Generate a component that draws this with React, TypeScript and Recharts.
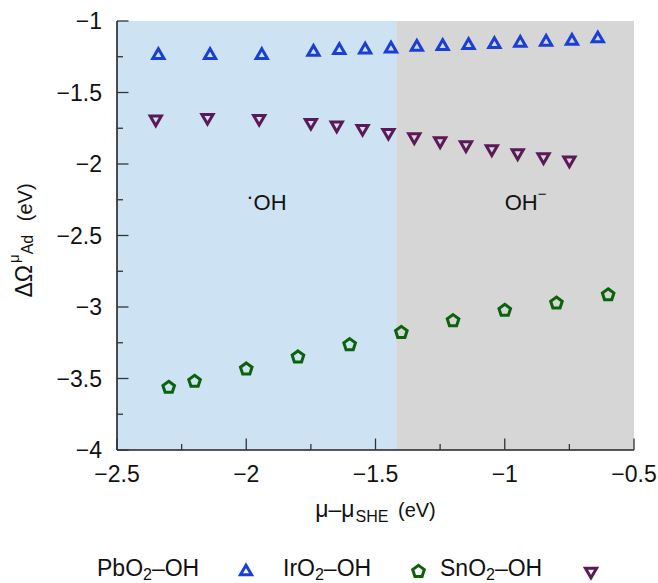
import React from 'react';
import { ScatterChart, Scatter, XAxis, YAxis, ReferenceArea, Legend, Label } from 'recharts';

// ---------- data ----------
const xTicks = [-2.5, -2.25, -2, -1.75, -1.5, -1.25, -1, -0.75, -0.5];
const yTicks = [-4, -3.75, -3.5, -3.25, -3, -2.75, -2.5, -2.25, -2, -1.75, -1.5, -1.25, -1];

const regionBoundary = -1.42;

// blue up-triangles
const pbX = [-2.34, -2.14, -1.94, -1.74, -1.64, -1.54, -1.44, -1.34, -1.24, -1.14, -1.04, -0.94, -0.84, -0.74, -0.64];
const pbY = [-1.228, -1.228, -1.228, -1.205, -1.193, -1.189, -1.182, -1.17, -1.165, -1.158, -1.151, -1.142, -1.135, -1.128, -1.112];

// green pentagons
const irX = [-2.3, -2.2, -2.0, -1.8, -1.6, -1.4, -1.2, -1.0, -0.8, -0.6];
const irY = [-3.562, -3.52, -3.434, -3.35, -3.264, -3.178, -3.096, -3.024, -2.973, -2.915];

// purple down-triangles
const snX = [-2.35, -2.15, -1.95, -1.75, -1.65, -1.55, -1.45, -1.35, -1.25, -1.15, -1.05, -0.95, -0.85, -0.75];
const snY = [-1.699, -1.687, -1.694, -1.722, -1.741, -1.764, -1.792, -1.822, -1.85, -1.878, -1.906, -1.934, -1.962, -1.985];

const annotations = [
  { x: -2.0, y: -2.32, kind: 'radical' },
  { x: -1.0, y: -2.32, kind: 'anion' },
];

const legendItems = [
  { base: 'PbO', sub: '2', rest: '–OH', marker: 'up' },
  { base: 'IrO', sub: '2', rest: '–OH', marker: 'pent' },
  { base: 'SnO', sub: '2', rest: '–OH', marker: 'down' },
];

// ---------- styles / layout ----------
const FONT = '"Liberation Sans", Arial, Helvetica, sans-serif';
const BLUE = '#1a3fd6';
const GREEN = '#0a620a';
const PURPLE = '#5b1a57';
const BG_BLUE = '#cde3f3';
const BG_GRAY = '#d6d6d6';
const TICK_COLOR = '#333';
const FRAME = '#222';
const TICK_FONT = 23;
const MAJOR_LEN = 11.5;
const MINOR_LEN = 6;
const SW = 3;

const legendLayout = [
  { textX: 97, markerX: 246, markerY: 21 },
  { textX: 283, markerX: 418.5, markerY: 22.5 },
  { textX: 440, markerX: 591, markerY: 24 },
];

const toPoints = (xs: number[], ys: number[]) => xs.map((x, i) => ({ x, y: ys[i] }));
const pbData = toPoints(pbX, pbY);
const irData = toPoints(irX, irY);
const snData = toPoints(snX, snY);

const isMajor = (v: number) => Math.abs(v * 2 - Math.round(v * 2)) < 1e-6;
const fmt = (v: number) => (v < 0 ? '\u2212' : '') + String(Math.abs(v));

// ---------- marker shapes ----------
const TRI_SIDE = 11.2;
const upPath = (cx: number, cy: number) => {
  const s = TRI_SIDE;
  const h = s * 0.866;
  return `M${cx},${cy - h / 2}L${cx + s / 2},${cy + h / 2}L${cx - s / 2},${cy + h / 2}Z`;
};
const downPath = (cx: number, cy: number) => {
  const s = TRI_SIDE;
  const h = s * 0.866;
  return `M${cx},${cy + h / 2}L${cx + s / 2},${cy - h / 2}L${cx - s / 2},${cy - h / 2}Z`;
};
const pentPath = (cx: number, cy: number) => {
  const r = 6.1;
  let d = '';
  for (let i = 0; i < 5; i++) {
    const a = -Math.PI / 2 + (i * 2 * Math.PI) / 5;
    d += (i === 0 ? 'M' : 'L') + (cx + r * Math.cos(a)).toFixed(2) + ',' + (cy + r * Math.sin(a)).toFixed(2);
  }
  return d + 'Z';
};

const markerEl = (kind: string, cx: number, cy: number) => {
  if (kind === 'up') return <path d={upPath(cx, cy)} fill="none" stroke={BLUE} strokeWidth={SW} />;
  if (kind === 'pent') return <path d={pentPath(cx, cy)} fill="none" stroke={GREEN} strokeWidth={SW} />;
  return <path d={downPath(cx, cy)} fill="none" stroke={PURPLE} strokeWidth={SW} />;
};

// ---------- ticks ----------
const XTickBottom = (props: any) => {
  const { x, y, payload } = props;
  const v = payload.value;
  const major = isMajor(v);
  return (
    <g>
      <line x1={x} x2={x} y1={y} y2={y - (major ? MAJOR_LEN : MINOR_LEN)} stroke={TICK_COLOR} strokeWidth={1.3} />
      {major && (
        <text x={x} y={y + 32} textAnchor="middle" fontSize={TICK_FONT} fontFamily={FONT} fill="#111">
          {fmt(v)}
        </text>
      )}
    </g>
  );
};
const XTickTop = (props: any) => {
  const { x, y, payload } = props;
  const major = isMajor(payload.value);
  return <line x1={x} x2={x} y1={y} y2={y + (major ? MAJOR_LEN : MINOR_LEN)} stroke={TICK_COLOR} strokeWidth={1.3} />;
};
const YTickLeft = (props: any) => {
  const { x, y, payload } = props;
  const v = payload.value;
  const major = isMajor(v);
  return (
    <g>
      <line x1={x} x2={x + (major ? MAJOR_LEN : MINOR_LEN)} y1={y} y2={y} stroke={TICK_COLOR} strokeWidth={1.3} />
      {major && (
        <text x={x - 15} y={y + 8} textAnchor="end" fontSize={TICK_FONT} fontFamily={FONT} fill="#111">
          {fmt(v)}
        </text>
      )}
    </g>
  );
};
const YTickRight = (props: any) => {
  const { x, y, payload } = props;
  const major = isMajor(payload.value);
  return <line x1={x} x2={x - (major ? MAJOR_LEN : MINOR_LEN)} y1={y} y2={y} stroke={TICK_COLOR} strokeWidth={1.3} />;
};

// ---------- labels ----------
const XAxisLabel = (props: any) => {
  const { x, y, width } = props.viewBox;
  return (
    <text x={x + width / 2} y={y + 67} textAnchor="middle" fontSize={23} fontFamily={FONT} fill="#111">
      μ–μ
      <tspan fontSize={16} dy={5} dx={1}>SHE</tspan>
      <tspan fontSize={20} dy={-5} dx={4}>{'\u00a0(eV)'}</tspan>
    </text>
  );
};
const YAxisLabel = (props: any) => {
  const { y, height } = props.viewBox;
  const cx = 32;
  const cy = y + height / 2 + 5;
  return (
    <text x={cx} y={cy} transform={`rotate(-90 ${cx} ${cy})`} textAnchor="middle" fontSize={23} fontFamily={FONT} fill="#111">
      ΔΩ
      <tspan fontSize={15} dy={-13} dx={2}>μ</tspan>
      <tspan fontSize={16} dy={14}>Ad</tspan>
      <tspan fontSize={20} dy={-1} dx={8}>{'\u00a0(eV)'}</tspan>
    </text>
  );
};

const AnnotationShape = (props: any) => {
  const { cx, cy, payload } = props;
  if (payload.kind === 'radical') {
    return (
      <text x={cx} y={cy} fontSize={22} fontFamily={FONT} fill="#111">
        <tspan dy={-6}>·</tspan>
        <tspan dy={6}>OH</tspan>
      </text>
    );
  }
  return (
    <text x={cx} y={cy} fontSize={22} fontFamily={FONT} fill="#111">
      OH
      <tspan fontSize={15} dy={-11}>−</tspan>
    </text>
  );
};

const LegendContent = () => (
  <svg width={658} height={34} style={{ display: 'block' }}>
    {legendItems.map((it, i) => {
      const L = legendLayout[i];
      return (
        <g key={it.base}>
          <text x={L.textX} y={27} fontSize={23} fontFamily={FONT} fill="#111">
            {it.base}
            <tspan fontSize={16} dy={4}>{it.sub}</tspan>
            <tspan dy={-4}>{it.rest}</tspan>
          </text>
          {markerEl(it.marker, L.markerX, L.markerY)}
        </g>
      );
    })}
  </svg>
);

export default function App() {
  return (
    <div style={{ width: 658, height: 583, position: 'relative' }}>
      <style>{'body{margin:0}'}</style>
      <ScatterChart width={658} height={583} margin={{ top: 21, right: 24, bottom: 0, left: 0 }}>
        <XAxis
          xAxisId="b"
          type="number"
          dataKey="x"
          domain={[-2.5, -0.5]}
          allowDataOverflow
          ticks={xTicks}
          interval={0}
          tickSize={0}
          tickMargin={0}
          tickLine={false}
          axisLine={{ stroke: FRAME, strokeWidth: 1.6 }}
          height={99}
          tick={XTickBottom}
          label={<Label content={XAxisLabel} />}
        />
        <XAxis
          xAxisId="t"
          orientation="top"
          type="number"
          dataKey="x"
          domain={[-2.5, -0.5]}
          allowDataOverflow
          ticks={xTicks}
          interval={0}
          tickSize={0}
          tickMargin={0}
          tickLine={false}
          axisLine={{ stroke: FRAME, strokeWidth: 1.6 }}
          height={0}
          tick={XTickTop}
        />
        <YAxis
          yAxisId="l"
          type="number"
          dataKey="y"
          domain={[-4, -1]}
          allowDataOverflow
          ticks={yTicks}
          interval={0}
          tickSize={0}
          tickMargin={0}
          tickLine={false}
          axisLine={{ stroke: FRAME, strokeWidth: 1.6 }}
          width={117}
          tick={YTickLeft}
          label={<Label content={YAxisLabel} />}
        />
        <YAxis
          yAxisId="r"
          orientation="right"
          type="number"
          dataKey="y"
          domain={[-4, -1]}
          allowDataOverflow
          ticks={yTicks}
          interval={0}
          tickSize={0}
          tickMargin={0}
          tickLine={false}
          axisLine={{ stroke: FRAME, strokeWidth: 1.6 }}
          width={0}
          tick={YTickRight}
        />
        <ReferenceArea xAxisId="b" yAxisId="l" x1={-2.5} x2={regionBoundary} y1={-4} y2={-1} fill={BG_BLUE} fillOpacity={1} stroke="none" />
        <ReferenceArea xAxisId="b" yAxisId="l" x1={regionBoundary} x2={-0.5} y1={-4} y2={-1} fill={BG_GRAY} fillOpacity={1} stroke="none" />
        <Scatter xAxisId="t" yAxisId="r" data={annotations} isAnimationActive={false} shape={AnnotationShape} legendType="none" />
        <Scatter xAxisId="b" yAxisId="l" name="PbO2–OH" data={pbData} isAnimationActive={false} shape={(p: any) => markerEl('up', p.cx, p.cy)} />
        <Scatter xAxisId="b" yAxisId="l" name="IrO2–OH" data={irData} isAnimationActive={false} shape={(p: any) => markerEl('pent', p.cx, p.cy)} />
        <Scatter xAxisId="b" yAxisId="l" name="SnO2–OH" data={snData} isAnimationActive={false} shape={(p: any) => markerEl('down', p.cx, p.cy)} />
        <Legend
          verticalAlign="bottom"
          height={34}
          wrapperStyle={{ left: 0, bottom: 0, width: 658, height: 34 }}
          content={LegendContent}
        />
      </ScatterChart>
    </div>
  );
}
